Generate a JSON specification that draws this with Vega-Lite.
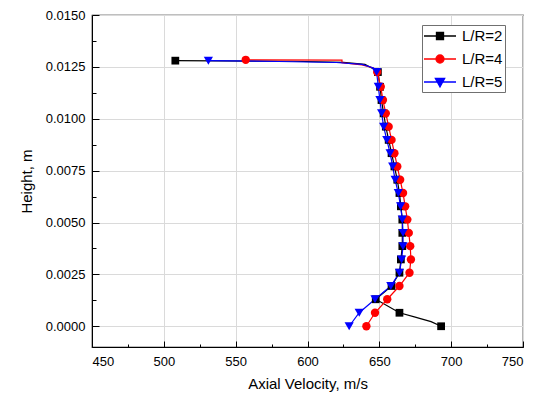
{
  "$schema": "https://vega.github.io/schema/vega-lite/v6.json",
  "width": 431,
  "height": 332,
  "autosize": {"type": "none"},
  "padding": {"left": 92, "top": 15, "right": 11, "bottom": 51},
  "background": "white",
  "config": {
    "view": {"stroke": "#000000", "strokeWidth": 1.2},
    "axis": {
      "labelFont": "Liberation Sans",
      "titleFont": "Liberation Sans",
      "labelFontSize": 13,
      "titleFontSize": 15,
      "titleFontWeight": "normal",
      "labelColor": "#000000",
      "titleColor": "#000000",
      "domainColor": "#000000",
      "tickColor": "#000000",
      "gridColor": "#dadada",
      "gridWidth": 1
    },
    "legend": {
      "labelFont": "Liberation Sans",
      "labelFontSize": 15,
      "labelColor": "#000000"
    }
  },
  "datasets": {
    "markers": [
      {"series": "L/R=2", "v": 693, "h": 0},
      {"series": "L/R=2", "v": 664, "h": 0.00065},
      {"series": "L/R=2", "v": 647.5, "h": 0.0013},
      {"series": "L/R=2", "v": 658.5, "h": 0.00194},
      {"series": "L/R=2", "v": 664, "h": 0.00258},
      {"series": "L/R=2", "v": 665, "h": 0.00322},
      {"series": "L/R=2", "v": 666, "h": 0.00386},
      {"series": "L/R=2", "v": 666, "h": 0.0045},
      {"series": "L/R=2", "v": 666, "h": 0.00514},
      {"series": "L/R=2", "v": 665, "h": 0.00578},
      {"series": "L/R=2", "v": 664, "h": 0.00642},
      {"series": "L/R=2", "v": 662.5, "h": 0.00706},
      {"series": "L/R=2", "v": 660.5, "h": 0.0077},
      {"series": "L/R=2", "v": 658.5, "h": 0.00834},
      {"series": "L/R=2", "v": 656.5, "h": 0.00898},
      {"series": "L/R=2", "v": 654.5, "h": 0.00962},
      {"series": "L/R=2", "v": 653, "h": 0.01026},
      {"series": "L/R=2", "v": 651.5, "h": 0.0109},
      {"series": "L/R=2", "v": 650.5, "h": 0.01154},
      {"series": "L/R=2", "v": 649, "h": 0.01225},
      {"series": "L/R=2", "v": 508, "h": 0.0128},
      {"series": "L/R=4", "v": 641, "h": 0},
      {"series": "L/R=4", "v": 647, "h": 0.00065},
      {"series": "L/R=4", "v": 655.5, "h": 0.0013},
      {"series": "L/R=4", "v": 664, "h": 0.00194},
      {"series": "L/R=4", "v": 671, "h": 0.00258},
      {"series": "L/R=4", "v": 672, "h": 0.00322},
      {"series": "L/R=4", "v": 671.5, "h": 0.00386},
      {"series": "L/R=4", "v": 670.5, "h": 0.0045},
      {"series": "L/R=4", "v": 669.5, "h": 0.00514},
      {"series": "L/R=4", "v": 668, "h": 0.00578},
      {"series": "L/R=4", "v": 666.5, "h": 0.00642},
      {"series": "L/R=4", "v": 664.5, "h": 0.00706},
      {"series": "L/R=4", "v": 662.5, "h": 0.0077},
      {"series": "L/R=4", "v": 660.5, "h": 0.00834},
      {"series": "L/R=4", "v": 658.5, "h": 0.00898},
      {"series": "L/R=4", "v": 656.5, "h": 0.00962},
      {"series": "L/R=4", "v": 654.5, "h": 0.01026},
      {"series": "L/R=4", "v": 652.5, "h": 0.0109},
      {"series": "L/R=4", "v": 651, "h": 0.01154},
      {"series": "L/R=4", "v": 648.5, "h": 0.01225},
      {"series": "L/R=4", "v": 557, "h": 0.01284},
      {"series": "L/R=5", "v": 629, "h": 0},
      {"series": "L/R=5", "v": 636, "h": 0.00065},
      {"series": "L/R=5", "v": 647, "h": 0.0013},
      {"series": "L/R=5", "v": 658, "h": 0.00194},
      {"series": "L/R=5", "v": 664, "h": 0.00258},
      {"series": "L/R=5", "v": 665.5, "h": 0.00322},
      {"series": "L/R=5", "v": 666.5, "h": 0.00386},
      {"series": "L/R=5", "v": 666.5, "h": 0.0045},
      {"series": "L/R=5", "v": 666, "h": 0.00514},
      {"series": "L/R=5", "v": 664.8, "h": 0.00578},
      {"series": "L/R=5", "v": 663.2, "h": 0.00642},
      {"series": "L/R=5", "v": 661, "h": 0.00706},
      {"series": "L/R=5", "v": 659.3, "h": 0.0077},
      {"series": "L/R=5", "v": 657.5, "h": 0.00834},
      {"series": "L/R=5", "v": 655.2, "h": 0.00898},
      {"series": "L/R=5", "v": 653, "h": 0.00962},
      {"series": "L/R=5", "v": 651.6, "h": 0.01026},
      {"series": "L/R=5", "v": 650.4, "h": 0.0109},
      {"series": "L/R=5", "v": 649.3, "h": 0.01154},
      {"series": "L/R=5", "v": 648.1, "h": 0.01225},
      {"series": "L/R=5", "v": 531, "h": 0.0128}
    ],
    "curve": [
      {"series": "L/R=2", "v": 693, "h": 0},
      {"series": "L/R=2", "v": 686, "h": 0.00022},
      {"series": "L/R=2", "v": 678, "h": 0.00038},
      {"series": "L/R=2", "v": 675, "h": 0.00044},
      {"series": "L/R=2", "v": 664, "h": 0.00065},
      {"series": "L/R=2", "v": 647.5, "h": 0.0013},
      {"series": "L/R=2", "v": 658.5, "h": 0.00194},
      {"series": "L/R=2", "v": 664, "h": 0.00258},
      {"series": "L/R=2", "v": 665, "h": 0.00322},
      {"series": "L/R=2", "v": 666, "h": 0.00386},
      {"series": "L/R=2", "v": 666, "h": 0.0045},
      {"series": "L/R=2", "v": 666, "h": 0.00514},
      {"series": "L/R=2", "v": 665, "h": 0.00578},
      {"series": "L/R=2", "v": 664, "h": 0.00642},
      {"series": "L/R=2", "v": 662.5, "h": 0.00706},
      {"series": "L/R=2", "v": 660.5, "h": 0.0077},
      {"series": "L/R=2", "v": 658.5, "h": 0.00834},
      {"series": "L/R=2", "v": 656.5, "h": 0.00898},
      {"series": "L/R=2", "v": 654.5, "h": 0.00962},
      {"series": "L/R=2", "v": 653, "h": 0.01026},
      {"series": "L/R=2", "v": 651.5, "h": 0.0109},
      {"series": "L/R=2", "v": 650.5, "h": 0.01154},
      {"series": "L/R=2", "v": 649, "h": 0.01225},
      {"series": "L/R=2", "v": 646, "h": 0.0124},
      {"series": "L/R=2", "v": 640, "h": 0.01262},
      {"series": "L/R=2", "v": 625, "h": 0.01272},
      {"series": "L/R=2", "v": 590, "h": 0.01277},
      {"series": "L/R=2", "v": 508, "h": 0.0128},
      {"series": "L/R=4", "v": 641, "h": 0},
      {"series": "L/R=4", "v": 647, "h": 0.00065},
      {"series": "L/R=4", "v": 655.5, "h": 0.0013},
      {"series": "L/R=4", "v": 664, "h": 0.00194},
      {"series": "L/R=4", "v": 671, "h": 0.00258},
      {"series": "L/R=4", "v": 672, "h": 0.00322},
      {"series": "L/R=4", "v": 671.5, "h": 0.00386},
      {"series": "L/R=4", "v": 670.5, "h": 0.0045},
      {"series": "L/R=4", "v": 669.5, "h": 0.00514},
      {"series": "L/R=4", "v": 668, "h": 0.00578},
      {"series": "L/R=4", "v": 666.5, "h": 0.00642},
      {"series": "L/R=4", "v": 664.5, "h": 0.00706},
      {"series": "L/R=4", "v": 662.5, "h": 0.0077},
      {"series": "L/R=4", "v": 660.5, "h": 0.00834},
      {"series": "L/R=4", "v": 658.5, "h": 0.00898},
      {"series": "L/R=4", "v": 656.5, "h": 0.00962},
      {"series": "L/R=4", "v": 654.5, "h": 0.01026},
      {"series": "L/R=4", "v": 652.5, "h": 0.0109},
      {"series": "L/R=4", "v": 651, "h": 0.01154},
      {"series": "L/R=4", "v": 648.5, "h": 0.01225},
      {"series": "L/R=4", "v": 646, "h": 0.01245},
      {"series": "L/R=4", "v": 638, "h": 0.0126},
      {"series": "L/R=4", "v": 624, "h": 0.0127},
      {"series": "L/R=4", "v": 624, "h": 0.01283},
      {"series": "L/R=4", "v": 557, "h": 0.01284},
      {"series": "L/R=5", "v": 629, "h": 0},
      {"series": "L/R=5", "v": 636, "h": 0.00065},
      {"series": "L/R=5", "v": 647, "h": 0.0013},
      {"series": "L/R=5", "v": 658, "h": 0.00194},
      {"series": "L/R=5", "v": 664, "h": 0.00258},
      {"series": "L/R=5", "v": 665.5, "h": 0.00322},
      {"series": "L/R=5", "v": 666.5, "h": 0.00386},
      {"series": "L/R=5", "v": 666.5, "h": 0.0045},
      {"series": "L/R=5", "v": 666, "h": 0.00514},
      {"series": "L/R=5", "v": 664.8, "h": 0.00578},
      {"series": "L/R=5", "v": 663.2, "h": 0.00642},
      {"series": "L/R=5", "v": 661, "h": 0.00706},
      {"series": "L/R=5", "v": 659.3, "h": 0.0077},
      {"series": "L/R=5", "v": 657.5, "h": 0.00834},
      {"series": "L/R=5", "v": 655.2, "h": 0.00898},
      {"series": "L/R=5", "v": 653, "h": 0.00962},
      {"series": "L/R=5", "v": 651.6, "h": 0.01026},
      {"series": "L/R=5", "v": 650.4, "h": 0.0109},
      {"series": "L/R=5", "v": 649.3, "h": 0.01154},
      {"series": "L/R=5", "v": 648.1, "h": 0.01225},
      {"series": "L/R=5", "v": 646, "h": 0.01245},
      {"series": "L/R=5", "v": 638, "h": 0.01262},
      {"series": "L/R=5", "v": 620, "h": 0.01271},
      {"series": "L/R=5", "v": 580, "h": 0.01276},
      {"series": "L/R=5", "v": 531, "h": 0.0128}
    ]
  },
  "resolve": {"axis": {"x": "independent", "y": "independent"}},
  "layer": [
    {
      "data": {"name": "markers"},
      "mark": {"type": "point", "opacity": 0},
      "encoding": {
        "x": {"field": "v", "type": "quantitative", "scale": {"domain": [450, 750], "nice": false, "zero": false},
              "axis": {"orient": "bottom", "values": [475, 525, 575, 625, 675, 725], "labels": false, "grid": false, "domain": false, "tickSize": -3, "title": null}},
        "y": {"field": "h", "type": "quantitative", "scale": {"domain": [-0.001, 0.015], "nice": false, "zero": false},
              "axis": {"orient": "left", "values": [0.00125, 0.00375, 0.00625, 0.00875, 0.01125, 0.01375], "labels": false, "grid": false, "domain": false, "tickSize": -4, "title": null}}
      }
    },
    {
      "data": {"name": "curve"},
      "mark": {"type": "line", "strokeWidth": 1.2, "clip": true},
      "encoding": {
        "x": {"field": "v", "type": "quantitative",
              "axis": {"orient": "bottom", "values": [450, 500, 550, 600, 650, 700, 750], "grid": true, "tickSize": -6, "labelPadding": 14, "title": "Axial Velocity, m/s", "titlePadding": 8}},
        "y": {"field": "h", "type": "quantitative",
              "axis": {"orient": "left", "values": [0, 0.0025, 0.005, 0.0075, 0.01, 0.0125, 0.015], "format": ".4f", "grid": true, "tickSize": -7, "labelPadding": 14, "title": "Height, m", "titlePadding": 11}},
        "order": {"field": "h", "type": "quantitative"},
        "color": {
          "field": "series", "type": "nominal",
          "scale": {"domain": ["L/R=2", "L/R=4", "L/R=5"], "range": ["#000000", "#ff0000", "#0000ff"]},
          "legend": {
            "title": null, "orient": "none", "legendX": 330, "legendY": 10,
            "strokeColor": "#707070", "fillColor": "#ffffff", "padding": 2,
            "symbolSize": 256, "symbolStrokeWidth": 1.3, "symbolOffset": 7, "labelOffset": 13, "rowPadding": 6,
            "encode": {
              "symbols": {
                "update": {
                  "shape": {"signal": "datum.value === 'L/R=2' ? 'M-2,0H2M-0.44,-0.44H0.44V0.44H-0.44Z' : datum.value === 'L/R=4' ? 'M-2,0H2M-0.5,0A0.5,0.5 0 1,0 0.5,0A0.5,0.5 0 1,0 -0.5,0Z' : 'M-2,0H2M-0.58,-0.45L0.58,-0.45L0,0.6Z'"},
                  "fill": {"signal": "scale('color', datum.value)"},
                  "stroke": {"signal": "scale('color', datum.value)"},
                  "fillOpacity": {"value": 1},
                  "strokeWidth": {"value": 1.3}
                }
              }
            }
          }
        }
      }
    },
    {
      "data": {"name": "markers"},
      "transform": [{"filter": "datum.series === 'L/R=2'"}],
      "mark": {"type": "point", "shape": "square", "filled": true, "opacity": 1, "size": 60, "clip": true},
      "encoding": {
        "x": {"field": "v", "type": "quantitative", "axis": null},
        "y": {"field": "h", "type": "quantitative", "axis": null},
        "color": {"field": "series", "type": "nominal", "legend": null}
      }
    },
    {
      "data": {"name": "markers"},
      "transform": [{"filter": "datum.series === 'L/R=4'"}],
      "mark": {"type": "point", "shape": "circle", "filled": true, "opacity": 1, "size": 70, "clip": true},
      "encoding": {
        "x": {"field": "v", "type": "quantitative", "axis": null},
        "y": {"field": "h", "type": "quantitative", "axis": null},
        "color": {"field": "series", "type": "nominal", "legend": null}
      }
    },
    {
      "data": {"name": "markers"},
      "transform": [{"filter": "datum.series === 'L/R=5'"}],
      "mark": {"type": "point", "shape": "triangle-down", "filled": true, "opacity": 1, "size": 85, "clip": true},
      "encoding": {
        "x": {"field": "v", "type": "quantitative", "axis": null},
        "y": {"field": "h", "type": "quantitative", "axis": null},
        "color": {"field": "series", "type": "nominal", "legend": null}
      }
    }
  ]
}
